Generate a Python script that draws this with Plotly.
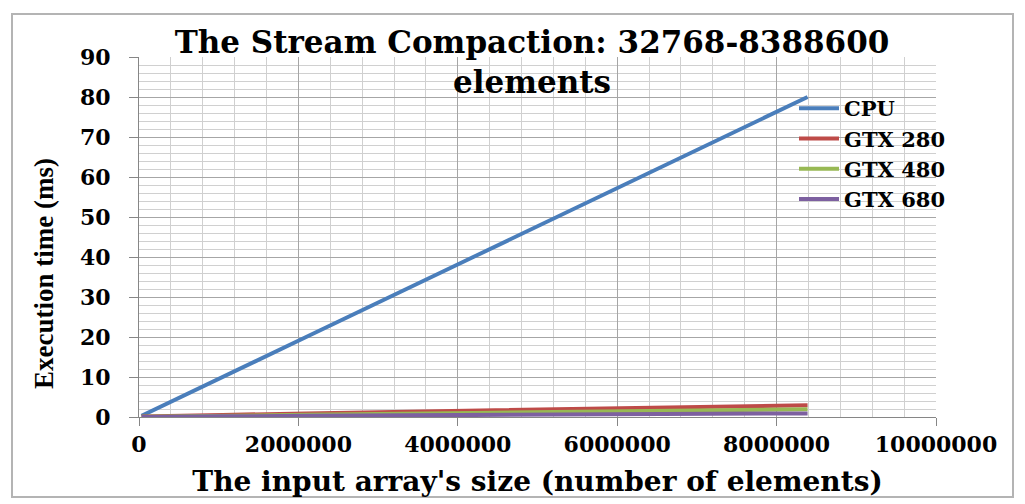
import plotly.graph_objects as go

sizes = [32768, 65536, 131072, 262144, 524288, 1048576, 2097152, 4194304, 8388600]
cpu = [0.31, 0.62, 1.25, 2.5, 5.0, 10.0, 20.0, 40.0, 80.0]
gtx280 = [0.1, 0.12, 0.15, 0.2, 0.3, 0.5, 0.9, 1.6, 2.95]
gtx480 = [0.05, 0.06, 0.08, 0.12, 0.18, 0.3, 0.55, 1.0, 1.95]
gtx680 = [0.03, 0.04, 0.05, 0.07, 0.1, 0.16, 0.3, 0.5, 0.9]

series = [("CPU", cpu, "#4a7ebb"), ("GTX 280", gtx280, "#be4b48"),
          ("GTX 480", gtx480, "#98b954"), ("GTX 680", gtx680, "#7d60a0")]

# page body has an 8px margin; figure coordinates = screen - 8
W, H = 1017, 496
L, R, T, B = 131, 928, 49, 409
fig = go.Figure()
for name, vals, col in series:
    fig.add_trace(go.Scatter(x=sizes, y=vals, name=name, mode="lines",
                             line=dict(color=col, width=4)))

hfont = "DejaVu Serif"
fig.update_layout(
    width=W, height=H,
    margin=dict(l=L, r=W - R, t=T, b=H - B, autoexpand=False),
    paper_bgcolor="white", plot_bgcolor="white",
    title=dict(text="<b>The Stream Compaction: 32768-8388600<br>elements</b>",
               x=524 / W, xanchor="center", y=1 - 45 / H, yanchor="middle",
               font=dict(family=hfont, size=31, color="black")),
    legend=dict(x=(786 - L) / (R - L), y=(B - 80) / (B - T), xanchor="left", yanchor="top",
                bgcolor="rgba(0,0,0,0)",
                font=dict(family=hfont, size=21, color="black", weight="bold"),
                tracegroupgap=0, itemwidth=40),
    showlegend=True,
)
fig.update_xaxes(
    range=[0, 10000000], tickvals=[0, 2000000, 4000000, 6000000, 8000000, 10000000],
    tickformat="d", showgrid=True, gridcolor="#a6a6a6", gridwidth=1,
    minor=dict(dtick=400000, showgrid=True, gridcolor="#d0d0d0", gridwidth=1),
    showline=True, linecolor="#868686", linewidth=1, zeroline=False,
    ticks="outside", ticklen=8, tickcolor="#868686", ticklabelstandoff=0,
    tickfont=dict(family=hfont, size=22, color="black", weight="bold"),
    title=dict(text="<b>The input array's size (number of elements)</b>",
               font=dict(family=hfont, size=28, color="black"), standoff=14),
)
fig.update_yaxes(
    range=[0, 90], dtick=10, showgrid=True, gridcolor="#a6a6a6", gridwidth=1,
    minor=dict(dtick=2, showgrid=True, gridcolor="#d0d0d0", gridwidth=1),
    showline=True, linecolor="#868686", linewidth=1, zeroline=False,
    ticks="outside", ticklen=9, tickcolor="#868686", ticklabelstandoff=14,
    tickfont=dict(family=hfont, size=22, color="black", weight="bold"),
)

def px(xp):
    return (xp - L) / (R - L)

def py(yp):
    return (B - yp) / (B - T)

fig.add_annotation(text="<b>Execution time (ms)</b>", xref="paper", yref="paper",
                   x=px(36), y=py(266), textangle=-90, showarrow=False,
                   xanchor="center", yanchor="middle",
                   font=dict(family="Liberation Serif", size=27, color="black"))

fig.add_shape(type="rect", xref="paper", yref="paper",
              x0=px(4), x1=px(1005), y0=py(489), y1=py(6),
              line=dict(color="#b4b4b4", width=2), layer="below")
fig.write_html("out.html")
